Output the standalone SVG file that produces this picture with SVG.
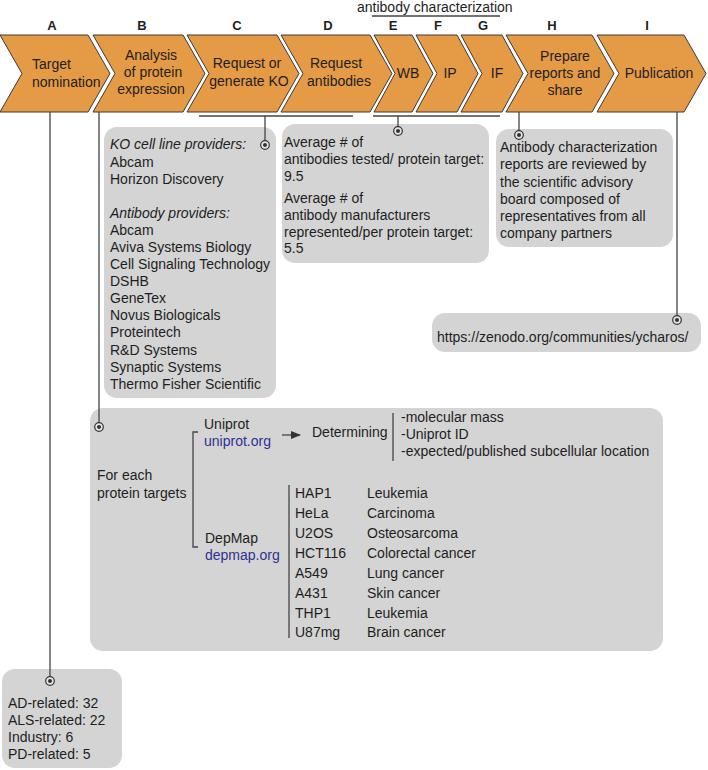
<svg xmlns="http://www.w3.org/2000/svg" width="708" height="770" viewBox="0 0 708 770">
<defs>
<style>
text{font-family:"Liberation Sans",Arial,sans-serif;font-size:14px;fill:#1e1e1e}
.hd{font-weight:bold;font-size:13px;text-anchor:middle}
.c{text-anchor:middle}
.chev{fill:#E59A45;stroke:#3a3a3a;stroke-width:1}
.box{fill:#D4D4D4}
.ln{stroke:#444;stroke-width:1.3;fill:none}
.it{font-style:italic}
.lk{fill:#2E3192}
</style>
<marker id="dot" viewBox="-6 -6 12 12" markerWidth="12" markerHeight="12" markerUnits="userSpaceOnUse" refX="0" refY="0">
<circle r="4.3" fill="#e6e6e6" stroke="#333" stroke-width="1.2"/>
<circle r="2" fill="#333"/>
</marker>
<marker id="arr" viewBox="0 0 10 10" refX="9" refY="5" markerWidth="10" markerHeight="10" markerUnits="userSpaceOnUse" orient="auto">
<path d="M0,1 L10,5 L0,9 Z" fill="#333"/>
</marker>
</defs>

<g id="headers">
<text class="hd" x="52" y="30">A</text>
<text class="hd" x="142" y="30">B</text>
<text class="hd" x="237" y="30">C</text>
<text class="hd" x="328" y="30">D</text>
<text class="hd" x="393" y="30">E</text>
<text class="hd" x="438" y="30">F</text>
<text class="hd" x="483" y="30">G</text>
<text class="hd" x="552" y="30">H</text>
<text class="hd" x="647" y="30">I</text>
<text x="357" y="12">antibody characterization</text>
<line class="ln" x1="372" y1="16" x2="500" y2="16"/>
</g>

<g id="stepA"><polygon class="chev" points="0,35 88,35 110,73.5 88,112 0,112 22,73.5"/>
<text x="32" y="69">Target</text><text x="32" y="87">nomination</text></g>
<g id="stepB"><polygon class="chev" points="93,35 183,35 205,73.5 183,112 93,112 115,73.5"/>
<text class="c" x="151" y="60">Analysis</text><text class="c" x="153" y="77">of protein</text><text class="c" x="151" y="94">expression</text></g>
<g id="stepC"><polygon class="chev" points="187,35 277,35 299,73.5 277,112 187,112 209,73.5"/>
<text class="c" x="247" y="68">Request or</text><text class="c" x="249" y="86">generate KO</text></g>
<g id="stepD"><polygon class="chev" points="281,35 370,35 392,73.5 370,112 281,112 303,73.5"/>
<text class="c" x="336" y="68">Request</text><text class="c" x="339" y="86">antibodies</text></g>
<g id="stepE"><polygon class="chev" points="374,35 412,35 433,73.5 412,112 374,112 395,73.5"/>
<text class="c" x="408" y="78">WB</text></g>
<g id="stepF"><polygon class="chev" points="416,35 457,35 478,73.5 457,112 416,112 437,73.5"/>
<text class="c" x="450" y="78">IP</text></g>
<g id="stepG"><polygon class="chev" points="461,35 502,35 523,73.5 502,112 461,112 482,73.5"/>
<text class="c" x="497" y="78">IF</text></g>
<g id="stepH"><polygon class="chev" points="506,35 592,35 614,73.5 592,112 506,112 528,73.5"/>
<text class="c" x="565" y="61">Prepare</text><text class="c" x="565" y="78">reports and</text><text class="c" x="565" y="95">share</text></g>
<g id="stepI"><polygon class="chev" points="597,35 684,35 706,73.5 684,112 597,112 619,73.5"/>
<text class="c" x="659" y="78">Publication</text></g>

<g id="koBox"><rect class="box" x="104" y="127" width="172" height="271" rx="13"/>
<text class="it" x="110" y="149">KO cell line providers:</text>
<text x="110" y="166.5">Abcam</text>
<text x="110" y="183.5">Horizon Discovery</text>
<text class="it" x="110" y="218">Antibody providers:</text>
<text x="110" y="235">Abcam</text>
<text x="110" y="252">Aviva Systems Biology</text>
<text x="110" y="269">Cell Signaling Technology</text>
<text x="110" y="286">DSHB</text>
<text x="110" y="303">GeneTex</text>
<text x="110" y="320">Novus Biologicals</text>
<text x="110" y="337">Proteintech</text>
<text x="110" y="354.5">R&amp;D Systems</text>
<text x="110" y="371.5">Synaptic Systems</text>
<text x="110" y="389">Thermo Fisher Scientific</text></g>

<g id="avgBox"><rect class="box" x="282" y="124" width="207" height="139" rx="13"/>
<text x="284" y="147">Average # of</text>
<text x="284" y="164">antibodies tested/ protein target:</text>
<text x="284" y="181">9.5</text>
<text x="284" y="203">Average # of</text>
<text x="284" y="220">antibody manufacturers</text>
<text x="284" y="237">represented/per protein target:</text>
<text x="284" y="253">5.5</text></g>

<g id="reportBox"><rect class="box" x="496" y="129" width="177" height="118" rx="13"/>
<text x="500" y="152">Antibody characterization</text>
<text x="500" y="169">reports are reviewed by</text>
<text x="500" y="186.5">the scientific advisory</text>
<text x="500" y="203.5">board composed of</text>
<text x="500" y="221">representatives from all</text>
<text x="500" y="238">company partners</text></g>

<g id="zenodoBox"><rect class="box" x="432" y="313" width="269" height="39" rx="13"/>
<text x="437" y="342">https://zenodo.org/communities/ycharos/</text></g>

<g id="expressionBox"><rect class="box" x="90" y="408" width="573" height="243" rx="13"/>
<text x="97" y="480">For each</text>
<text x="97" y="498">protein targets</text>
<path class="ln" d="M198,432 H193 V547 H198"/>
<text x="204" y="429">Uniprot</text>
<text class="lk" x="204" y="446">uniprot.org</text>
<text x="205" y="543">DepMap</text>
<text class="lk" x="205" y="560">depmap.org</text>
<line class="ln" x1="282" y1="435" x2="300" y2="435" marker-end="url(#arr)"/>
<text x="312" y="437">Determining</text>
<line class="ln" x1="393" y1="413" x2="393" y2="461"/>
<text x="401" y="422">-molecular mass</text>
<text x="401" y="439">-Uniprot ID</text>
<text x="401" y="456">-expected/published subcellular location</text>
<line class="ln" x1="289" y1="485" x2="289" y2="638"/>
<text x="295" y="498">HAP1</text><text x="367" y="498">Leukemia</text>
<text x="295" y="518">HeLa</text><text x="367" y="518">Carcinoma</text>
<text x="295" y="538">U2OS</text><text x="367" y="538">Osteosarcoma</text>
<text x="295" y="558">HCT116</text><text x="367" y="558">Colorectal cancer</text>
<text x="295" y="578">A549</text><text x="367" y="578">Lung cancer</text>
<text x="295" y="598">A431</text><text x="367" y="598">Skin cancer</text>
<text x="295" y="618">THP1</text><text x="367" y="618">Leukemia</text>
<text x="295" y="637">U87mg</text><text x="367" y="637">Brain cancer</text></g>

<g id="targetBox"><rect class="box" x="2" y="669" width="120" height="99" rx="13"/>
<text x="8" y="708">AD-related: 32</text>
<text x="8" y="725">ALS-related: 22</text>
<text x="8" y="742">Industry: 6</text>
<text x="8" y="759">PD-related: 5</text></g>

<g id="connectors">
<line class="ln" x1="50" y1="112" x2="50" y2="681" marker-end="url(#dot)"/>
<line class="ln" x1="99" y1="112" x2="99" y2="427" marker-end="url(#dot)"/>
<line class="ln" x1="199" y1="116" x2="353" y2="116"/>
<line class="ln" x1="265" y1="116" x2="265" y2="145" marker-end="url(#dot)"/>
<line class="ln" x1="373" y1="116" x2="500" y2="116"/>
<line class="ln" x1="398" y1="116" x2="398" y2="131" marker-end="url(#dot)"/>
<line class="ln" x1="519" y1="112" x2="519" y2="135" marker-end="url(#dot)"/>
<line class="ln" x1="677" y1="112" x2="677" y2="320" marker-end="url(#dot)"/>
</g>
</svg>
